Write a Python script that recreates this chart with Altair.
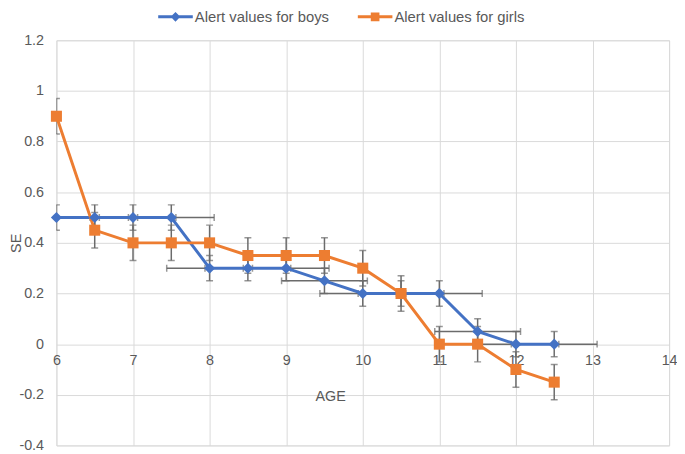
import altair as alt
import pandas as pd

# ---- data ----
ages = [6, 6.5, 7, 7.5, 8, 8.5, 9, 9.5, 10, 10.5, 11, 11.5, 12, 12.5]
boys = [0.5, 0.5, 0.5, 0.5, 0.3, 0.3, 0.3, 0.25, 0.2, 0.2, 0.2, 0.05, 0, 0]
girls = [0.9, 0.45, 0.4, 0.4, 0.4, 0.35, 0.35, 0.35, 0.3, 0.2, 0, 0, -0.1, -0.15]
boys_yerr = [0.05, 0.05, 0.05, 0.05, 0.05, 0.05, 0.05, 0.05, 0.05, 0.05, 0.05, 0.05, 0.05, 0.05]
girls_yerr = [0.07, 0.07, 0.07, 0.07, 0.07, 0.07, 0.07, 0.07, 0.07, 0.07, 0.07, 0.07, 0.07, 0.07]
boys_xerr = [0.56, 0.56, 0.56, 0.56, 0.56, 0.56, 0.56, 0.56, 0.56, 0.56, 0.56, 0.56, 0.56, 0.56]
series_names = ["Alert values for boys", "Alert values for girls"]
x_ticks = [6, 7, 8, 9, 10, 11, 12, 13, 14]
y_ticks = [-0.4, -0.2, 0, 0.2, 0.4, 0.6, 0.8, 1, 1.2]

rows = []
for a, v, e, h in zip(ages, boys, boys_yerr, boys_xerr):
    rows.append(dict(age=a, se=v, series=series_names[0], ylo=v - e, yhi=v + e,
                     xlo=a - h, xhi=a + h))
for a, v, e in zip(ages, girls, girls_yerr):
    rows.append(dict(age=a, se=v, series=series_names[1], ylo=v - e, yhi=v + e,
                     xlo=None, xhi=None))
df = pd.DataFrame(rows)

BLUE, ORANGE = "#4472C4", "#ED7D31"
GRID = "#d9d9d9"
TXT = "#595959"
ERR = "#6b6b6b"
FONT = "Liberation Sans"

xscale = alt.Scale(domain=[6, 14], nice=False, zero=False)
yscale = alt.Scale(domain=[-0.4, 1.2], nice=False, zero=False)
cscale = alt.Scale(domain=series_names, range=[BLUE, ORANGE])

xaxis = alt.Axis(values=x_ticks, grid=True, gridColor=GRID, gridWidth=1,
                 domain=False, ticks=False, offset=-102.5, labelPadding=10,
                 labelExpr="'' + datum.value",
                 labelFontSize=14.5, labelColor=TXT, labelFont=FONT,
                 title="AGE", titleFontSize=14.5, titleColor=TXT, titleFont=FONT,
                 titleFontWeight="normal", titleX=277, titleY=53.5,
                 titleBaseline="middle", labelFlush=False, labelOverlap=False)
yaxis = alt.Axis(values=y_ticks, grid=True, gridColor=GRID, gridWidth=1,
                 domain=False, ticks=False, labelPadding=13,
                 labelExpr="'' + datum.value",
                 labelFontSize=14.5, labelColor=TXT, labelFont=FONT,
                 title="SE", titleFontSize=14.5, titleColor=TXT, titleFont=FONT,
                 titleFontWeight="normal", titleX=-40, titleY=205,
                 titleBaseline="middle", labelFlush=False, labelOverlap=False)

base = alt.Chart(df)
boys_only = base.transform_filter(alt.datum.series == series_names[0])
girls_only = base.transform_filter(alt.datum.series == series_names[1])

# vertical error bars
vbar = base.mark_rule(color=ERR, strokeWidth=1.5, clip=True).encode(
    x=alt.X("age:Q", scale=xscale, axis=xaxis),
    y=alt.Y("ylo:Q", scale=yscale, axis=yaxis),
    y2="yhi:Q",
)
vcap_lo = base.mark_tick(color=ERR, orient="horizontal", size=7, thickness=1.5, clip=True).encode(
    x="age:Q", y="ylo:Q")
vcap_hi = base.mark_tick(color=ERR, orient="horizontal", size=7, thickness=1.5, clip=True).encode(
    x="age:Q", y="yhi:Q")

# horizontal error bars (boys)
hbar = boys_only.mark_rule(color=ERR, strokeWidth=1.5, clip=True).encode(
    x="xlo:Q", x2="xhi:Q", y="se:Q")
hcap_lo = boys_only.mark_tick(color=ERR, orient="vertical", size=7, thickness=1.5, clip=True).encode(
    x="xlo:Q", y="se:Q")
hcap_hi = boys_only.mark_tick(color=ERR, orient="vertical", size=7, thickness=1.5, clip=True).encode(
    x="xhi:Q", y="se:Q")

line_boys = boys_only.mark_line(strokeWidth=3, color=BLUE).encode(x="age:Q", y="se:Q")
line_girls = girls_only.mark_line(strokeWidth=3, color=ORANGE).encode(x="age:Q", y="se:Q")

pts_boys = boys_only.mark_point(filled=True, shape="diamond", size=125, opacity=1,
                                strokeWidth=0, color=BLUE).encode(x="age:Q", y="se:Q")
pts_girls = girls_only.mark_point(filled=True, shape="square", size=125, opacity=1,
                                  strokeWidth=0, color=ORANGE).encode(x="age:Q", y="se:Q")

DIAMOND_LINE = "M-1,-0.09H1V0.09H-1Z M0,-0.28L0.28,0L0,0.28L-0.28,0Z"
SQUARE_LINE = "M-1,-0.09H1V0.09H-1Z M-0.25,-0.25H0.25V0.25H-0.25Z"

legend = alt.Legend(orient="none", legendX=103, legendY=-41.5, direction="horizontal",
                    title=None, labelFontSize=15, labelColor=TXT, labelFont=FONT,
                    symbolSize=1225, symbolOpacity=1, symbolStrokeWidth=0,
                    labelOffset=2, columnPadding=29, padding=0)
leg_layer = base.mark_point(filled=True, opacity=0, size=1).encode(
    x="age:Q", y="se:Q",
    color=alt.Color("series:N", scale=cscale, legend=legend),
    shape=alt.Shape("series:N", scale=alt.Scale(domain=series_names,
                                                range=[DIAMOND_LINE, SQUARE_LINE]),
                    legend=legend),
)

chart = alt.layer(
    vbar, vcap_lo, vcap_hi, hbar, hcap_lo, hcap_hi,
    line_boys, line_girls, pts_boys, pts_girls, leg_layer
).properties(
    width=620, height=410,
    autosize=alt.AutoSizeParams(type="none"),
    padding={"left": 49, "top": 30, "right": 8, "bottom": 6},
).configure_view(stroke=None).configure(background="white")

chart.save("out.html", embed_options={"renderer": "svg", "actions": False})
